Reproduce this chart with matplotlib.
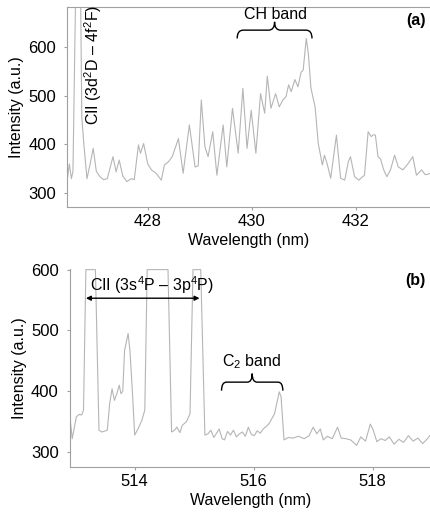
import numpy as np
import matplotlib.pyplot as plt
from matplotlib.path import Path
from matplotlib.patches import PathPatch

plt.rcParams['font.family'] = ['Liberation Sans', 'DejaVu Sans']
plt.rcParams['mathtext.fontset'] = 'custom'
plt.rcParams['mathtext.rm'] = 'Liberation Sans'

### data
# (a) CH band region
wl_a = [426.45, 426.49, 426.53, 426.56, 426.61, 426.65, 426.69, 426.73, 426.77, 426.83,
        426.89, 426.95, 427.01, 427.08, 427.15, 427.22, 427.33, 427.39, 427.45, 427.52,
        427.60, 427.68, 427.74, 427.82, 427.86, 427.92, 428.00, 428.07, 428.16, 428.26,
        428.32, 428.40, 428.47, 428.59, 428.68, 428.80, 428.91, 428.97, 429.03, 429.10,
        429.16, 429.25, 429.33, 429.45, 429.52, 429.63, 429.74, 429.83, 429.91, 429.99,
        430.08, 430.17, 430.25, 430.30, 430.37, 430.46, 430.53, 430.60, 430.66, 430.71,
        430.76, 430.83, 430.89, 430.95, 430.99, 431.05, 431.09, 431.14, 431.22, 431.28,
        431.36, 431.40, 431.45, 431.52, 431.63, 431.71, 431.79, 431.86, 431.90, 431.98,
        432.06, 432.17, 432.24, 432.30, 432.34, 432.38, 432.43, 432.48, 432.54, 432.60,
        432.67, 432.75, 432.82, 432.91, 433.01, 433.10, 433.17, 433.27, 433.34, 433.45]
int_a = [327, 360, 330, 345, 700, 1400, 900, 456, 400, 330,
         360, 392, 345, 334, 328, 330, 375, 344, 368, 335,
         324, 330, 328, 399, 382, 402, 360, 348, 341, 327,
         358, 365, 375, 412, 341, 440, 354, 356, 491, 395,
         375, 426, 337, 440, 354, 474, 382, 515, 392, 470,
         382, 504, 464, 540, 474, 504, 477, 491, 498, 522,
         508, 533, 518, 548, 552, 617, 586, 515, 477, 402,
         358, 378, 361, 331, 419, 331, 327, 365, 375, 334,
         327, 337, 426, 416, 420, 419, 375, 370, 348, 334,
         348, 378, 354, 348, 361, 375, 337, 348, 338, 341]

# (b) CII / C2 band region
wl_b = [512.89, 512.92, 512.95, 513.02, 513.07, 513.11, 513.14, 513.18, 513.34, 513.40,
        513.45, 513.54, 513.58, 513.62, 513.66, 513.70, 513.74, 513.77, 513.80, 513.83,
        513.89, 513.92, 513.96, 514.00, 514.06, 514.12, 514.17, 514.21, 514.56, 514.62,
        514.67, 514.71, 514.76, 514.80, 514.87, 514.93, 514.98, 515.11, 515.18, 515.23,
        515.28, 515.33, 515.37, 515.42, 515.47, 515.51, 515.56, 515.61, 515.66, 515.71,
        515.76, 515.81, 515.86, 515.91, 515.96, 516.01, 516.06, 516.11, 516.16, 516.21,
        516.26, 516.35, 516.43, 516.46, 516.51, 516.58, 516.66, 516.75, 516.85, 516.93,
        517.00, 517.06, 517.12, 517.17, 517.24, 517.32, 517.41, 517.47, 517.55, 517.63,
        517.73, 517.80, 517.88, 517.96, 518.01, 518.07, 518.14, 518.21, 518.28, 518.36,
        518.44, 518.52, 518.60, 518.68, 518.76, 518.84, 518.92, 518.97]
int_b = [303, 350, 322, 358, 362, 361, 369, 600, 600, 336,
         333, 336, 380, 404, 385, 396, 410, 396, 400, 467,
         495, 467, 402, 328, 339, 352, 369, 600, 600, 333,
         336, 341, 332, 344, 350, 363, 600, 600, 328, 330,
         336, 324, 330, 338, 322, 320, 334, 328, 336, 325,
         330, 333, 326, 341, 329, 327, 335, 331, 338, 342,
         347, 363, 399, 391, 320, 324, 323, 326, 322, 327,
         341, 330, 338, 320, 326, 322, 341, 323, 322, 320,
         311, 325, 318, 346, 336, 317, 322, 319, 325, 313,
         321, 316, 327, 318, 323, 314, 322, 328]

line_color = '#b5b5b5'
spine_color = '#a0a0a0'

def brace(ax, x0, x1, y, h, color='black'):
  # curly brace opening downward, tip pointing up, in data coords
  xm = 0.5 * (x0 + x1)
  r = 0.08 * (x1 - x0)
  verts = [(x0, y - h), (x0, y), (x0 + r, y),
           (xm - r, y), (xm, y), (xm, y + h),
           (xm, y), (xm + r, y),
           (x1 - r, y), (x1, y), (x1, y - h)]
  codes = [Path.MOVETO, Path.CURVE3, Path.CURVE3,
           Path.LINETO, Path.CURVE3, Path.CURVE3,
           Path.CURVE3, Path.CURVE3,
           Path.LINETO, Path.CURVE3, Path.CURVE3]
  ax.add_patch(PathPatch(Path(verts, codes), fc='none', ec=color, lw=1.0))

def style(ax, top=True):
  for s in ['left', 'bottom', 'top', 'right']:
    ax.spines[s].set_color(spine_color)
    ax.spines[s].set_linewidth(0.8)
  ax.spines['right'].set_visible(False)
  ax.spines['top'].set_visible(top)
  ax.tick_params(axis='both', colors=spine_color, labelcolor='black',
                 labelsize=12, length=2, width=0.8)
  ax.tick_params(axis='y', pad=6)
  ax.tick_params(axis='x', pad=3)
  ax.set_ylabel('Intensity (a.u.)', fontsize=11.5, labelpad=3)
  ax.set_xlabel('Wavelength (nm)', fontsize=11.5, labelpad=3)

fig = plt.figure(figsize=(4.31, 5.13), dpi=100)

### (a)
ax1 = fig.add_axes([0.156, 0.5965, 0.844, 0.3895])
ax1.plot(wl_a, int_a, color=line_color, lw=0.8)
ax1.set_xlim(426.45, 433.45)
ax1.set_ylim(272, 681)
ax1.set_xticks([428, 430, 432])
ax1.set_yticks([300, 400, 500, 600])
style(ax1, top=True)
ax1.text(426.94, 562, 'CII (3d$^2$D – 4f$^2$F)', rotation=90, ha='center', va='center', fontsize=11.5)
ax1.text(430.45, 667, 'CH band', ha='center', va='center', fontsize=11.5)
brace(ax1, 429.72, 431.16, 634, 17)
ax1.text(0.985, 0.935, '(a)', transform=ax1.transAxes, ha='right', va='center',
         fontsize=11.5, fontweight='bold')

### (b)
ax2 = fig.add_axes([0.162, 0.0903, 0.838, 0.3853])
ax2.plot(wl_b, int_b, color=line_color, lw=0.8)
ax2.set_xlim(512.91, 518.98)
ax2.set_ylim(276, 601)
ax2.set_xticks([514, 516, 518])
ax2.set_yticks([300, 400, 500, 600])
style(ax2, top=False)
ax2.text(514.29, 574, 'CII (3s$^4$P – 3p$^4$P)', ha='center', va='center', fontsize=11.5)
ax2.annotate('', xy=(513.18, 553), xytext=(515.09, 553),
             arrowprops=dict(arrowstyle='<|-|>', color='black', lw=1.0,
                             mutation_scale=7, shrinkA=0, shrinkB=0))
ax2.text(515.97, 448, 'C$_2$ band', ha='center', va='center', fontsize=11.5)
brace(ax2, 515.46, 516.49, 415, 14)
ax2.text(0.985, 0.94, '(b)', transform=ax2.transAxes, ha='right', va='center',
         fontsize=11.5, fontweight='bold')

plt.savefig('out.png', dpi=100)
